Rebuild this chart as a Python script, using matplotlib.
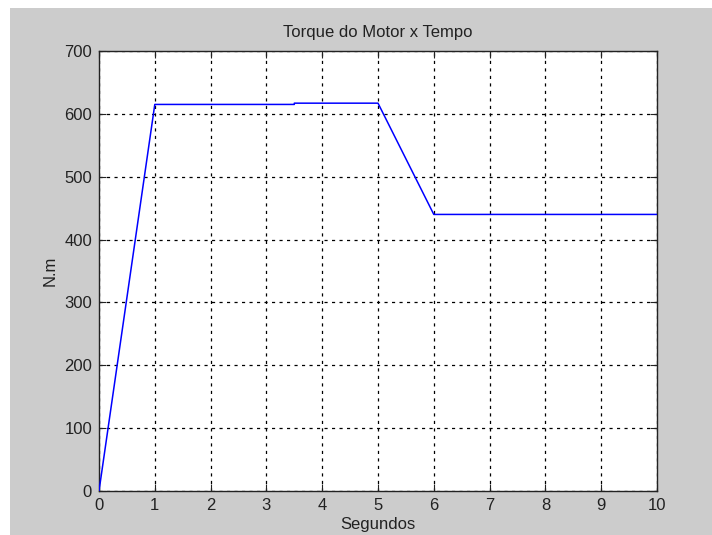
import numpy as np
import matplotlib.pyplot as plt
from matplotlib.patches import Rectangle

# time (s) and torque (N.m)
tempo = [0, 1, 3.5, 3.5, 5, 6, 10]
torque = [0, 615, 615, 617, 617, 440, 440]

xticks = np.arange(0, 11, 1)
yticks = np.arange(0, 701, 100)

plt.rcParams['font.family'] = ['Liberation Sans', 'DejaVu Sans']

fig = plt.figure(figsize=(7.12, 5.35), dpi=100)
fig.patch.set_facecolor('white')
# gray figure panel like the matlab window
fig.patches.append(Rectangle((10/712, 0), 1, (535-8)/535, transform=fig.transFigure,
                             facecolor='#cccccc', edgecolor='none', zorder=-5))

ax = fig.add_axes([99/712, 44/535, 558/712, 440/535])
ax.set_zorder(1)
ax.plot(tempo, torque, color='#0000ff', lw=1.1, zorder=3)

ax.set_xlim(0, 10)
ax.set_ylim(0, 700)
ax.set_xticks(xticks)
ax.set_yticks(yticks)
ax.grid(True, color='black', linestyle=(0, (2.5, 3.5)), linewidth=0.9)
ax.tick_params(direction='in', length=5, top=True, right=True, labelsize=12, pad=5,
               colors='#222222')
for s in ax.spines.values():
    s.set_linewidth(1.0)
    s.set_color('#222222')

ax.set_title('Torque do Motor x Tempo', fontsize=12, pad=10, color='#222222')
ax.set_xlabel('Segundos', fontsize=12, labelpad=3, color='#222222')
ax.set_ylabel('N.m', fontsize=12, labelpad=5, color='#222222')

plt.savefig('out.png', dpi=100)
